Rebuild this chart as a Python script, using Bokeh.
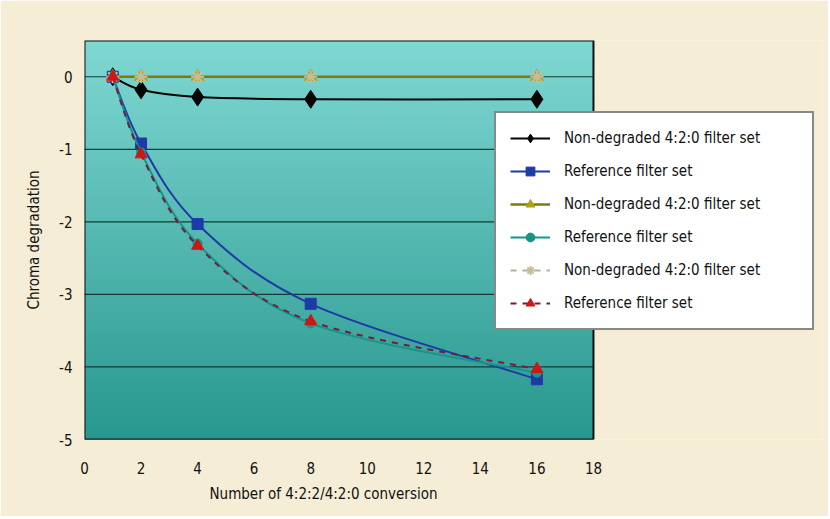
import numpy as np
from bokeh.plotting import figure
from bokeh.models import Range1d, FixedTicker, Legend, LegendItem, ColumnDataSource, Title
from bokeh.embed import file_html
from bokeh.resources import INLINE

# ---- data ----
conversions = [1, 2, 4, 8, 16]
nondeg_a = [0.0, -0.18, -0.28, -0.31, -0.31]       # black diamond
reference_a = [0.0, -0.92, -2.03, -3.13, -4.17]    # blue square
nondeg_b = [0.0, 0.0, 0.0, 0.0, 0.0]               # olive triangle
reference_b = [0.0, -1.04, -2.30, -3.40, -4.08]    # teal circle
nondeg_c = [0.0, 0.0, 0.0, 0.0, 0.0]               # grey asterisk
reference_c = [0.0, -1.07, -2.33, -3.37, -4.03]    # red triangle

labels = ["Non-degraded 4:2:0 filter set", "Reference filter set",
          "Non-degraded 4:2:0 filter set", "Reference filter set",
          "Non-degraded 4:2:0 filter set", "Reference filter set"]
x_ticks = [0, 2, 4, 6, 8, 10, 12, 14, 16, 18]
y_ticks = [0, -1, -2, -3, -4, -5]
x_lo, x_hi = 0, 18          # axis extent of the plot area
x_view_hi = 26.1            # frame continues to the right (room for the legend)
y_lo, y_hi = -5, 0.5

FONT = "'DejaVu Sans Condensed', 'Liberation Sans Narrow', Roboto, sans-serif"
FS = "15px"
CREAM = "#F6EDD6"

p = figure(width=828, height=516, output_backend="svg", toolbar_location=None,
           x_range=Range1d(x_lo, x_view_hi), y_range=Range1d(y_lo, y_hi),
           min_border_left=84, min_border_right=6, min_border_top=40, min_border_bottom=77)
p.border_fill_color = CREAM
p.background_fill_color = CREAM
p.outline_line_color = None

# gradient background of the plot area
n = 200
top = np.array([128, 216, 211])
bot = np.array([40, 152, 142])
t = np.linspace(0, 1, n)[:, None]
cols = (bot * (1 - t) + top * t).astype(np.uint32)
img = np.empty((n, 2), dtype=np.uint32)
view = img.view(dtype=np.uint8).reshape((n, 2, 4))
view[:, :, 0] = cols[:, 0][:, None]
view[:, :, 1] = cols[:, 1][:, None]
view[:, :, 2] = cols[:, 2][:, None]
view[:, :, 3] = 255
p.image_rgba(image=[img], x=x_lo, y=y_lo, dw=x_hi - x_lo, dh=y_hi - y_lo, level="image")

p.grid.grid_line_color = None
p.segment(x0=[x_lo] * len(y_ticks), x1=[x_hi] * len(y_ticks), y0=y_ticks, y1=y_ticks,
          line_color="#163a36", line_width=1.2, level="underlay")
p.quad(left=[x_lo], right=[x_hi], bottom=[y_lo], top=[y_hi], fill_alpha=0,
       line_color="#111111", line_width=2)

p.xaxis.ticker = FixedTicker(ticks=x_ticks)
p.yaxis.ticker = FixedTicker(ticks=y_ticks)
p.yaxis.major_label_overrides = {v: "%d" % v for v in y_ticks}
for ax in (p.xaxis[0], p.yaxis[0]):
    ax.axis_line_color = None
    ax.major_tick_line_color = None
    ax.minor_tick_line_color = None
    ax.major_tick_out = 0
    ax.major_tick_in = 0
    ax.major_label_text_font = FONT
    ax.major_label_text_font_size = FS
    ax.major_label_text_color = "#111111"
    ax.axis_label_text_font = FONT
    ax.axis_label_text_font_size = FS
    ax.axis_label_text_font_style = "normal"
    ax.axis_label_text_color = "#111111"
p.yaxis.axis_label = "Chroma degradation"
p.xaxis.major_label_standoff = 22
p.yaxis.major_label_standoff = 12
p.yaxis.axis_label_standoff = 13

xlabel = Title(text="Number of 4:2:2/4:2:0 conversion", align="left", offset=125,
               text_font=FONT, text_font_size=FS, text_font_style="normal",
               text_color="#111111", standoff=12)
p.add_layout(xlabel, "below")


def smooth_segments(xs, ys):
    xs = np.asarray(xs, float)
    ys = np.asarray(ys, float)
    m = len(xs)
    px = np.concatenate([[xs[0]], xs, [xs[-1]]])
    py = np.concatenate([[ys[0]], ys, [ys[-1]]])
    d = dict(x0=[], y0=[], x1=[], y1=[], cx0=[], cy0=[], cx1=[], cy1=[])
    for i in range(m - 1):
        a, b, c, e = i, i + 1, i + 2, i + 3
        d["x0"].append(px[b]); d["y0"].append(py[b])
        d["x1"].append(px[c]); d["y1"].append(py[c])
        d["cx0"].append(px[b] + (px[c] - px[a]) / 6); d["cy0"].append(py[b] + (py[c] - py[a]) / 6)
        d["cx1"].append(px[c] - (px[e] - px[b]) / 6); d["cy1"].append(py[c] - (py[e] - py[b]) / 6)
    return ColumnDataSource(d)


series = [
    (nondeg_a, "#050505", "solid", 2, "diamond", 18, "#050505", "glyph"),
    (reference_a, "#1E3AA8", "solid", 2, "square", 11, "#1E3AA8", "glyph"),
    (nondeg_b, "#7E7A12", "solid", 2.5, "triangle", 13, "#B0A21A", "glyph"),
    (reference_b, "#15968A", "solid", 2, "circle", 9, "#15968A", "glyph"),
    (nondeg_c, "#A8B8A4", "dashed", 2, "asterisk", 13, "#C8BC98", "underlay"),
    (reference_c, "#7A1A3A", "dashed", 2, "triangle", 12, "#D01515", "glyph"),
]

items = []
for (ys, lc, dash, lw, marker, size, mc, lvl), lab in zip(series, labels):
    src = smooth_segments(conversions, ys)
    curve = p.bezier(x0="x0", y0="y0", x1="x1", y1="y1", cx0="cx0", cy0="cy0", cx1="cx1",
                     cy1="cy1", source=src, line_color=lc, line_width=lw, line_dash=dash,
                     level=lvl)
    lw_m = 2 if marker == "asterisk" else 1
    sc = p.scatter(x=conversions, y=ys, marker=marker, size=size, fill_color=mc,
                   line_color=mc, line_width=lw_m)
    items.append(LegendItem(label=lab, renderers=[curve, sc]))

legend = Legend(items=items, location=(410, 109), background_fill_color="white",
                background_fill_alpha=1.0, border_line_color="#111111", border_line_width=2,
                label_text_font=FONT, label_text_font_size=FS, label_text_color="#111111",
                glyph_width=40, glyph_height=22, label_height=22, label_width=234, spacing=11,
                padding=14, margin=0, label_standoff=14)
p.add_layout(legend, "center")

open("out.html", "w").write(file_html(p, INLINE))
